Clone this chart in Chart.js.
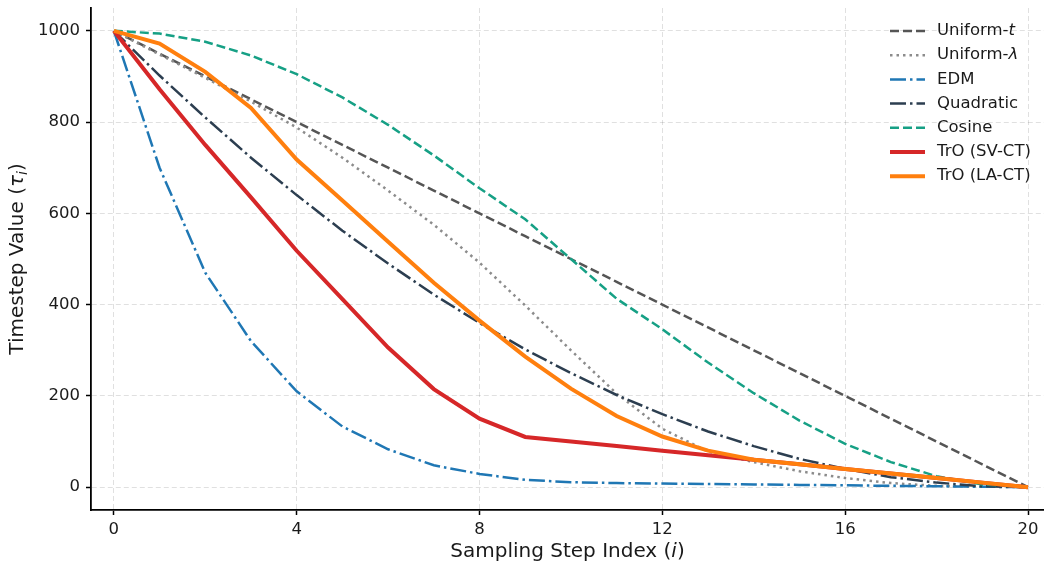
<!DOCTYPE html>
<html>
<head>
<meta charset="utf-8">
<script src="https://cdn.jsdelivr.net/npm/chart.js@4.4.1/dist/chart.umd.min.js"></script>
<style>
  html, body { margin: 0; padding: 0; background: #fff; }
  #wrap { width: 1044px; height: 565px; position: relative; }
</style>
</head>
<body>
<div id="wrap"><canvas id="chart"></canvas></div>
<script>
// ---------- data ----------
const steps = [0,1,2,3,4,5,6,7,8,9,10,11,12,13,14,15,16,17,18,19,20];
const uniformT      = [1000,950,900,850,800,750,700,650,600,550,500,450,400,350,300,250,200,150,100,50,0];
const uniformLambda = [1000,948,897,845,788,722,650,575,492,398,300,205,128,78,55,35,20,9,3,1,0];
const edm           = [1000,700,470,320,210,133,83,48,29,16,11,9,8,7,6,5,4,3,2,1,0];
const quadratic     = [1000,902,810,722,640,562,490,422,360,302,250,202,160,122,90,62,40,22,10,2,0];
const cosine        = [1000,994,976,946,905,854,794,727,655,587,500,413,346,273,206,146,95,55,24,6,0];
const trOSV         = [1000,872,750,635,518,412,306,215,150,110,100,90,80,70,60,50,40,30,20,10,0];
const trOLA         = [1000,972,910,831,718,628,538,448,365,286,216,156,111,80,60,50,40,30,20,10,0];

const xTicks = [0,4,8,12,16,20];
const yTicks = [0,200,400,600,800,1000];

// legend labels as text runs (italic parts kept separate)
const series = [
  { runs: [{t:'Uniform-'},{t:'t',it:true}],   data: uniformT,      color: '#555555', width: 2.5, dash: [9,4] },
  { runs: [{t:'Uniform-'},{t:'λ',it:true}],   data: uniformLambda, color: '#8c8c8c', width: 2.5, dash: [2.5,4] },
  { runs: [{t:'EDM'}],                        data: edm,           color: '#1f77b4', width: 2.5, dash: [16,4,2.5,4] },
  { runs: [{t:'Quadratic'}],                  data: quadratic,     color: '#2c3e50', width: 2.5, dash: [16,4,2.5,4] },
  { runs: [{t:'Cosine'}],                     data: cosine,        color: '#16a085', width: 2.5, dash: [9,4] },
  { runs: [{t:'TrO (SV-CT)'}],                data: trOSV,         color: '#d62728', width: 4, dash: [] },
  { runs: [{t:'TrO (LA-CT)'}],                data: trOLA,         color: '#ff7f0e', width: 4, dash: [] }
];

const FONT = '"DejaVu Sans", sans-serif';
const TXT = '#1a1a1a';

Chart.defaults.font.family = FONT;
Chart.defaults.color = TXT;

function drawRuns(ctx, runs, cx, cy, size) {
  let total = 0;
  runs.forEach(r => {
    const s = r.sub ? size * 0.7 : size;
    ctx.font = (r.it ? 'italic ' : '') + s + 'px ' + FONT;
    r._w = ctx.measureText(r.t).width;
    total += r._w;
  });
  let x = cx - total / 2;
  runs.forEach(r => {
    const s = r.sub ? size * 0.7 : size;
    ctx.font = (r.it ? 'italic ' : '') + s + 'px ' + FONT;
    ctx.fillText(r.t, x, cy + (r.sub ? size * 0.25 : 0));
    x += r._w;
  });
}

const textPlugin = {
  id: 'mixedText',
  afterDraw(chart) {
    const ctx = chart.ctx;
    const a = chart.chartArea;
    ctx.save();
    ctx.fillStyle = TXT;
    ctx.textBaseline = 'middle';
    ctx.textAlign = 'left';

    // axis titles
    drawRuns(ctx, [{t:'Sampling Step Index ('},{t:'i',it:true},{t:')'}], (a.left + a.right) / 2, 552, 20);
    ctx.save();
    ctx.translate(18, (a.top + a.bottom) / 2);
    ctx.rotate(-Math.PI / 2);
    drawRuns(ctx, [{t:'Timestep Value ('},{t:'τ',it:true},{t:'i',it:true,sub:true},{t:')'}], 0, 0, 20);
    ctx.restore();

    // legend
    series.forEach((s, i) => {
      const y = 31 + i * 24.2;
      ctx.save();
      ctx.strokeStyle = s.color;
      ctx.lineWidth = s.width;
      ctx.setLineDash(s.dash);
      ctx.beginPath();
      ctx.moveTo(890, y);
      ctx.lineTo(925, y);
      ctx.stroke();
      ctx.restore();
      let x = 937;
      s.runs.forEach(r => {
        ctx.font = (r.it ? 'italic ' : '') + '16.5px ' + FONT;
        ctx.fillText(r.t, x, y);
        x += ctx.measureText(r.t).width;
      });
    });
    ctx.restore();
  }
};

const datasets = series.map((s, i) => ({
  label: s.runs.map(r => r.t).join(''),
  data: steps.map((x, k) => ({ x, y: s.data[k] })),
  borderColor: s.color,
  borderWidth: s.width,
  borderDash: s.dash,
  pointRadius: 0,
  tension: 0,
  fill: false,
  order: series.length - 1 - i
}));

const gridOpts = {
  color: 'rgba(0,0,0,0.12)',
  lineWidth: 1,
  tickColor: '#000',
  tickWidth: 1.5,
  tickLength: 5
};

function noPad(s) {
  s.paddingTop = 0; s.paddingBottom = 0; s.paddingLeft = 0; s.paddingRight = 0;
}

new Chart(document.getElementById('chart'), {
  type: 'line',
  data: { datasets },
  options: {
    responsive: true,
    maintainAspectRatio: false,
    animation: false,
    layout: { padding: { top: 8, right: 0, left: 0, bottom: 0 } },
    plugins: { legend: { display: false }, tooltip: { enabled: false } },
    scales: {
      x: {
        type: 'linear',
        min: -0.5, max: 20.35,
        afterBuildTicks: s => { s.ticks = xTicks.map(v => ({ value: v })); },
        afterFit: s => { s.height = 55; noPad(s); },
        ticks: { color: TXT, font: { size: 16.5 }, padding: 5, maxRotation: 0, callback: v => String(v) },
        grid: gridOpts,
        border: { display: true, color: '#000', width: 1.8, dash: [5,3] }
      },
      y: {
        type: 'linear',
        min: -50, max: 1050,
        afterBuildTicks: s => { s.ticks = yTicks.map(v => ({ value: v })); },
        afterFit: s => { s.width = 91; noPad(s); },
        ticks: { color: TXT, font: { size: 16.5 }, padding: 6, callback: v => String(v) },
        grid: gridOpts,
        border: { display: true, color: '#000', width: 1.8, dash: [5,3] }
      }
    }
  },
  plugins: [textPlugin]
});
</script>
</body>
</html>
